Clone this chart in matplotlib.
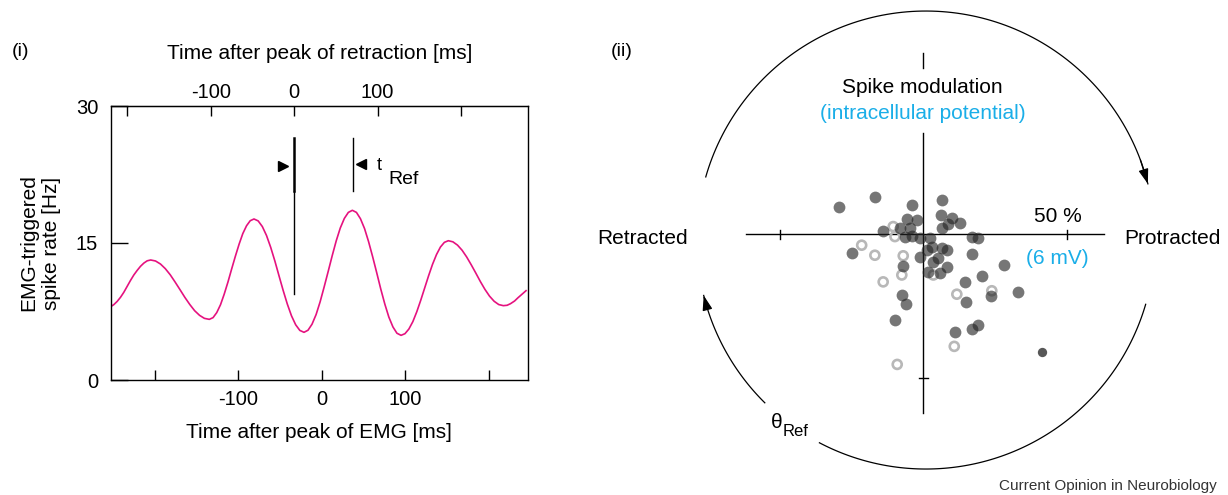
import numpy as np
import matplotlib
matplotlib.use("Agg")
import matplotlib.pyplot as plt
from matplotlib.patches import FancyArrowPatch

plt.rcParams["font.family"] = ["Liberation Sans", "DejaVu Sans"]

MAGENTA = "#e5127f"
BLUE = "#1aaee8"
W, H = 1228, 495

# ── (i) EMG-triggered spike rate ────────────────────────────────────
EMG_T = [-252.7, -249, -245, -241, -237, -233, -229, -225, -221, -217, -213, -209,
         -204.8, -199.0, -193.1, -187.3, -181.4, -175.6, -169.7, -163.9, -158.0, -152.2, -146.3, -140.5,
         -134.6, -130.1, -125.7, -121.2, -116.8, -112.3, -107.9, -103.4, -98.9, -94.5, -90.0, -85.6,
         -81.1, -76.1, -71.1, -66.1, -61.1, -56.1, -51.2, -46.2, -41.2, -36.2, -31.2, -26.2,
         -21.2, -16.4, -11.6, -6.7, -1.9, 2.9, 7.8, 12.6, 17.4, 22.2, 27.1, 31.9,
         36.7, 41.6, 46.4, 51.3, 56.1, 61.0, 65.9, 70.7, 75.6, 80.4, 85.3, 90.1,
         95.0, 99.7, 104.4, 109.2, 113.9, 118.6, 123.3, 128.0, 132.7, 137.5, 142.2, 146.9,
         151.6, 157.1, 162.6, 168.1, 173.6, 179.1, 184.6, 190.0, 195.5, 201.0, 206.5, 212.0,
         217.5, 222, 226, 231, 235, 240, 244.7]
RATE = [8.03, 8.25, 8.6, 9.05, 9.6, 10.25, 10.9, 11.5, 12.0, 12.45, 12.8, 13.05,
        13.14, 13.03, 12.70, 12.19, 11.52, 10.73, 9.89, 9.05, 8.27, 7.59, 7.08, 6.75,
        6.64, 6.83, 7.38, 8.24, 9.39, 10.72, 12.14, 13.55, 14.88, 16.03, 16.89, 17.44,
        17.63, 17.42, 16.80, 15.82, 14.53, 13.03, 11.43, 9.82, 8.32, 7.03, 6.05, 5.43,
        5.22, 5.45, 6.11, 7.17, 8.56, 10.18, 11.90, 13.62, 15.24, 16.63, 17.69, 18.35,
        18.58, 18.35, 17.66, 16.58, 15.16, 13.50, 11.74, 9.97, 8.31, 6.89, 5.81, 5.12,
        4.89, 5.07, 5.58, 6.40, 7.48, 8.73, 10.07, 11.41, 12.66, 13.74, 14.56, 15.07,
        15.25, 15.13, 14.77, 14.21, 13.47, 12.61, 11.70, 10.78, 9.92, 9.18, 8.62, 8.26,
        8.14, 8.18, 8.35, 8.65, 9.0, 9.4, 9.78]
SHIFT = 33          # peak of retraction sits 33 ms before the EMG peak
T_REF_END = 37.5    # ms, EMG time of the second marker
TICKS = [-200, -100, 0, 100, 200]
TICK_LABELS = ["", "-100", "0", "100", ""]

# ── (ii) modulation depth / phase, in % (50 % = 6 mV) ───────────────
FILLED_X = [-29.3, -17.0, -4.0, 6.5, 6.1, 9.9, 12.8, 8.7, 6.4, -5.8, -2.3,
            -14.0, -8.1, -4.6, -6.4, -4.0, -1.2, 2.3, 2.9, 1.2, 6.4, 8.2,
            -1.2, 5.2, 3.5, 8.2, 5.8, 1.7, 14.5, 16.9, 19.2, 16.9, -24.9,
            -7.0, 28.2, 20.4, 23.5, 32.9, 14.9, -7.5, -6.1, -10.0, 19.2,
            16.9, 11.1]
FILLED_Y = [9.6, 13.1, 10.3, 12.0, 6.7, 5.6, 3.8, 3.5, 2.3, 5.3, 5.0,
            1.2, 2.1, 2.1, -0.8, -0.5, -1.2, -1.4, -4.3, -5.5, -4.9, -5.5,
            -7.8, -8.4, -9.6, -11.3, -13.6, -13.3, -16.5, -0.8, -1.4, -7.0, -6.6,
            -11.0, -10.7, -14.5, -21.5, -20.0, -23.7, -21.3, -24.4, -29.9, -31.6,
            -32.9, -34.2]
OPEN_X = [-10.5, -9.9, -21.5, -16.9, -7.0, -7.5, -14.0, 11.7, 23.9, 10.8, -9.1, 3.5]
OPEN_Y = [2.7, -0.8, -3.8, -7.3, -7.5, -14.2, -16.6, -20.9, -19.7, -39.1, -45.4, -14.2]
OUTLIER_X = [41.5]
OUTLIER_Y = [-41.1]

fig = plt.figure(figsize=(W / 100, H / 100), dpi=100)

# ── panel (i) ────────────────────────────────────────────────────────
ax = fig.add_axes([110.7 / W, 1 - 380 / H, 417 / W, 274 / H])
ax.plot(EMG_T, RATE, color=MAGENTA, lw=1.2)
ax.set_xlim(-252.7, 246.7)
ax.set_ylim(0, 30)
ax.set_xticks(TICKS)
ax.set_xticklabels(TICK_LABELS)
ax.set_yticks([0, 15, 30])
ax.tick_params(axis="x", direction="in", length=7, width=1, pad=7, labelsize=14.5)
ax.tick_params(axis="y", direction="in", length=12, width=1, pad=9, labelsize=14.5)
for s in ax.spines.values():
    s.set_linewidth(1.0)
ax.set_xlabel("Time after peak of EMG [ms]", fontsize=15, labelpad=10)
ax.set_ylabel("EMG-triggered\nspike rate [Hz]", fontsize=15, labelpad=11, linespacing=1.25)

top = ax.secondary_xaxis("top", functions=(lambda t: t + SHIFT, lambda t: t - SHIFT))
top.set_xticks(TICKS)
top.set_xticklabels(TICK_LABELS)
top.tick_params(direction="in", length=7, width=1, pad=3, labelsize=14.5)
top.set_xlabel("Time after peak of retraction [ms]", fontsize=15, labelpad=17)

# t_Ref markers
ax.plot([-SHIFT, -SHIFT], [20.7, 26.5], color="k", lw=1.8)
ax.plot([-SHIFT, -SHIFT], [9.4, 20.7], color="k", lw=1.0)
ax.plot([T_REF_END, T_REF_END], [20.7, 26.5], color="k", lw=1.0)
ax.plot([-46], [23.4], marker=">", ms=7, color="k")
ax.plot([47], [23.7], marker="<", ms=7, color="k")
ax.text(66.5, 23.5, "t", fontsize=13, ha="left", va="center")
ax.text(79.5, 22.0, "Ref", fontsize=14, ha="left", va="center")

fig.text(12 / W, 1 - 51.7 / H, "(i)", fontsize=14, va="center")

# ── panel (ii) ───────────────────────────────────────────────────────
px = 2.866  # pixels per %
ax2 = fig.add_axes([600 / W, 0, 628 / W, 1])
ax2.set_xlim((600 - 923.3) / px, (1228 - 923.3) / px)
ax2.set_ylim((234.3 - 495) / px, 234.3 / px)
ax2.axis("off")

ax2.plot([-62, 63], [0, 0], color="k", lw=1.0)
ax2.plot([0, 0], [-62.5, 35.5], color="k", lw=1.0)
ax2.plot([0, 0], [58.1, 63.2], color="k", lw=1.0)
for xt in (-50, 50):
    ax2.plot([xt, xt], [-1.6, 1.6], color="k", lw=1.0)
ax2.plot([-1.6, 1.6], [-50, -50], color="k", lw=1.0)

ax2.scatter(OPEN_X, OPEN_Y, s=42, facecolors="none", edgecolors="#b8b8b8", linewidths=1.9, zorder=3)
ax2.scatter(FILLED_X, FILLED_Y, s=72, color="#222222", alpha=0.62, linewidths=0, zorder=4)
ax2.scatter(OUTLIER_X, OUTLIER_Y, s=45, color="#3a3a3a", alpha=0.85, linewidths=0, zorder=4)

# phase circle with arrows
cx, cy, r = 0.9, -2.0, 79.9


def arc(a0, a1, arrow=False):
    a = np.radians(np.linspace(a0, a1, 120))
    x, y = cx + r * np.cos(a), cy + r * np.sin(a)
    ax2.plot(x, y, color="k", lw=0.9)
    if arrow:
        ax2.add_patch(FancyArrowPatch((x[-6], y[-6]), (x[-1], y[-1]),
                                      arrowstyle="-|>,head_length=0.75,head_width=0.25",
                                      mutation_scale=12, color="k", lw=0.9,
                                      shrinkA=0, shrinkB=0))


arc(164, 14.2, arrow=True)
arc(-16.3, -117.7)
arc(225.3, 194, arrow=True)

ax2.text(-0.2, 51.3, "Spike modulation", fontsize=15, ha="center", va="center")
ax2.text(-0.2, 42.2, "(intracellular potential)", fontsize=15, ha="center", va="center", color=BLUE)
ax2.text(46.8, 6.1, "50 %", fontsize=15, ha="center", va="center")
ax2.text(46.8, -8.4, "(6 mV)", fontsize=15, ha="center", va="center", color=BLUE)
ax2.text(70.0, -1.4, "Protracted", fontsize=15, ha="left", va="center")
ax2.text(-82.1, -1.3, "Retracted", fontsize=15, ha="right", va="center")
ax2.text(-53.2, -65.7, "θ", fontsize=15, ha="left", va="center")
ax2.text(-49.0, -68.9, "Ref", fontsize=12, ha="left", va="center")

fig.text(611 / W, 1 - 51.7 / H, "(ii)", fontsize=14, va="center")
fig.text(1217 / W, 1 - 486 / H, "Current Opinion in Neurobiology", fontsize=11,
         ha="right", va="center", color="#333333")

fig.savefig("out.png", dpi=100)
